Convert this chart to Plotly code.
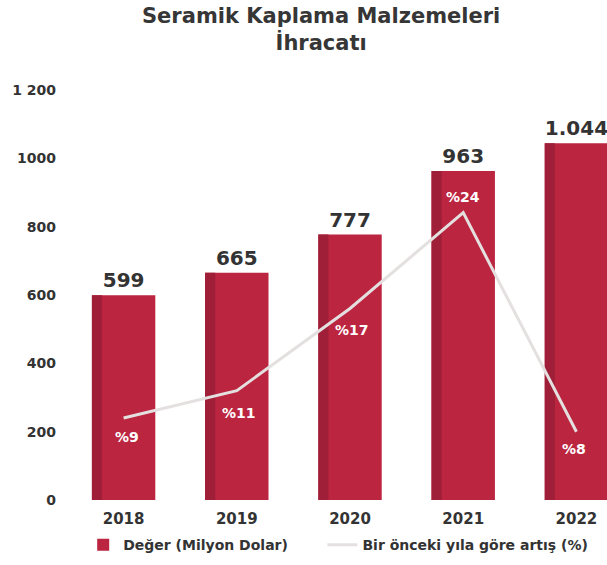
import plotly.graph_objects as go

# Export values and yearly growth
years = ["2018", "2019", "2020", "2021", "2022"]
export_value = [599, 665, 777, 963, 1044]          # million USD
growth_pct = [9, 11, 17, 24, 8]                    # % vs previous year
growth_label_shift = [-19, -22, -22, 16, -17]      # px offset of each % label from its point
growth_label_xshift = [3, 2, 2, 0, -2]

y_ticks = [0, 200, 400, 600, 800, 1000, 1200]
y_tick_text = ["0", "200", "400", "600", "800", "1000", "1 200"]

FONT = "DejaVu Sans"
BAR = "#BC2540"
BAR_DARK = "#9E1F37"
INK = "#333333"

fig = go.Figure()

# main bars
fig.add_trace(go.Bar(
    x=years, y=export_value, name="Değer (Milyon Dolar)",
    marker=dict(color=BAR, line=dict(width=0)),
    width=0.56,
    texttemplate="%{y:,d}", textposition="outside",
    textfont=dict(family=FONT, size=20, color=INK, weight="bold"),
    cliponaxis=False, yaxis="y", legend="legend",
))
# darker left face of each bar
fig.add_trace(go.Bar(
    x=years, y=export_value, showlegend=False, hoverinfo="skip",
    marker=dict(color=BAR_DARK, line=dict(width=0)),
    width=0.09, offset=-0.28, yaxis="y",
))

# growth line on secondary axis
fig.add_trace(go.Scatter(
    x=years, y=growth_pct, name="Bir önceki yıla göre artış (%)",
    mode="lines",
    line=dict(color="#E4E0E0", width=3),
    cliponaxis=False, yaxis="y2", legend="legend2",
))

# % labels next to each growth point (x given as category index)
annotations = [
    dict(x=i, y=v, xref="x", yref="y2", text=f"%{v}", showarrow=False,
         yshift=dy, xshift=dx,
         font=dict(family=FONT, size=14, color="white", weight="bold"))
    for i, (v, dy, dx) in enumerate(zip(growth_pct, growth_label_shift, growth_label_xshift))
]
annotations.append(dict(
    text="Seramik Kaplama Malzemeleri<br>İhracatı",
    xref="paper", yref="paper", x=0.47, y=1.215, xanchor="center", yanchor="top",
    showarrow=False,
    font=dict(family=FONT, size=21, color="#363636", weight="bold"),
))

legend_style = dict(
    orientation="h", y=-0.11, yanchor="middle", xanchor="left",
    font=dict(family=FONT, size=14, color=INK, weight="bold"),
    itemwidth=30, bgcolor="rgba(0,0,0,0)",
)

fig.update_layout(
    width=607, height=565,
    margin=dict(l=67, r=0, t=90, b=65),
    paper_bgcolor="white", plot_bgcolor="white",
    barmode="overlay",
    separators=",.",
    font=dict(family=FONT, color=INK),
    annotations=annotations,
    xaxis=dict(
        type="category", range=[-0.5, 4.27],
        showgrid=False, zeroline=False, showline=False, ticks="",
        ticklabelstandoff=8,
        tickfont=dict(family=FONT, size=15, color=INK, weight="bold"),
    ),
    yaxis=dict(
        range=[0, 1200], tickvals=y_ticks, ticktext=y_tick_text,
        showgrid=False, zeroline=False, showline=False, ticks="",
        ticklabelstandoff=10,
        tickfont=dict(family=FONT, size=14, color=INK, weight="bold"),
    ),
    yaxis2=dict(
        overlaying="y", side="right", range=[3.02, 32.95],
        showgrid=False, zeroline=False, showline=False,
        showticklabels=False, ticks="",
    ),
    showlegend=True,
    legend=dict(x=0.03, **legend_style),
    legend2=dict(x=0.473, **legend_style),
)

fig.write_html("out.html")
